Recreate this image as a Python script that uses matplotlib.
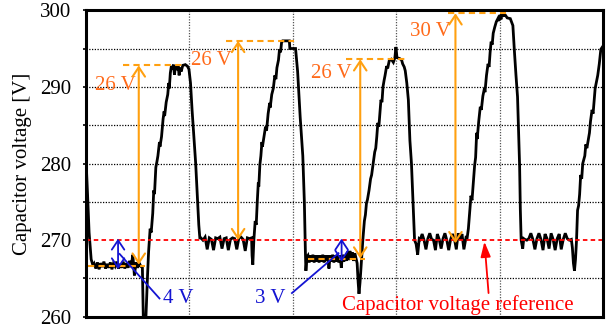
import numpy as np
import matplotlib
matplotlib.use("Agg")
import matplotlib.pyplot as plt
from matplotlib.ticker import MultipleLocator

plt.rcParams['font.family'] = ['Liberation Serif', 'DejaVu Serif']
plt.rcParams['font.size'] = 15

# ---- capacitor voltage trace (time in arbitrary units, 10 per grid division) ----
start_drop = [(0.0, 280.6), (0.15, 276.0), (0.3, 271.0), (0.5, 267.5), (0.7, 266.6)]

flat_1 = [266.9, 266.3, 267.1, 266.2, 267.0, 266.5, 267.2, 266.3, 266.9, 266.4,
          267.1, 266.2, 267.0, 266.6, 267.2, 266.3, 266.9, 266.4, 267.2, 266.3,
          267.0, 266.4, 267.3, 266.5, 268.1, 265.4, 267.1, 266.4, 267.0, 266.6]
flat_1_span = (0.8, 5.3)

pulse_1 = [(5.45, 266.4), (5.55, 259.0), (5.75, 258.5), (5.95, 265.5), (6.05, 268.5),
           (6.2, 271.5), (6.3, 271.0), (6.45, 273.5), (6.55, 276.5), (6.62, 276.0),
           (6.75, 279.5), (6.85, 280.2), (6.95, 281.0), (7.1, 282.8), (7.15, 282.2),
           (7.3, 283.5), (7.45, 285.8), (7.55, 286.8), (7.6, 286.2), (7.75, 288.0),
           (7.9, 289.0), (8.0, 290.5), (8.05, 289.8), (8.15, 291.8), (8.25, 292.7),
           (8.35, 292.3), (8.45, 292.9), (8.55, 291.6), (8.65, 292.8), (8.75, 292.2),
           (8.9, 292.8), (9.0, 291.5), (9.1, 292.5), (9.2, 292.0), (9.35, 292.8),
           (9.6, 292.9), (9.8, 292.7), (9.95, 292.3), (10.1, 290.5), (10.25, 287.0),
           (10.45, 283.0), (10.6, 280.0), (10.75, 276.0), (10.9, 272.0), (11.0, 270.3)]

flat_2 = [270.3, 270.0, 270.4, 268.8, 270.3, 270.1, 268.7, 270.3, 270.2, 270.4,
          268.9, 270.2, 270.3, 268.7, 270.1, 270.3, 270.2, 268.8, 270.3, 270.4,
          270.1, 268.6, 270.3, 270.2, 270.3]
flat_2_span = (11.1, 16.0)

pulse_2 = [(16.05, 268.0), (16.12, 266.8), (16.22, 270.0), (16.35, 272.5), (16.45, 272.0),
           (16.55, 275.0), (16.65, 277.5), (16.7, 277.0), (16.8, 279.8), (16.9, 281.0),
           (17.0, 282.8), (17.05, 282.2), (17.2, 283.5), (17.35, 284.8), (17.45, 284.3),
           (17.6, 286.5), (17.75, 287.9), (17.8, 287.3), (17.95, 289.0), (18.1, 289.8),
           (18.25, 291.5), (18.35, 291.0), (18.45, 292.5), (18.6, 293.5), (18.7, 294.9),
           (18.8, 294.5), (18.9, 295.8), (19.0, 296.0), (19.5, 296.0), (19.65, 296.0),
           (19.7, 295.0), (20.25, 295.0), (20.45, 292.0), (20.7, 286.0), (20.95, 281.0),
           (21.1, 275.0), (21.2, 268.5), (21.25, 266.0), (21.35, 267.8)]

flat_3 = [268.0, 267.1, 268.0, 267.2, 268.1, 267.1, 268.0, 267.2, 268.0, 267.1,
          268.0, 267.2, 268.1, 267.1, 268.0, 267.3, 268.0, 266.3, 268.0, 267.2,
          268.1, 267.1, 268.0, 267.2, 268.0, 267.1, 268.0, 266.4, 268.1, 267.2,
          268.0, 267.3, 268.5, 267.4, 268.6, 267.5, 268.4, 267.3, 268.3, 267.6]
flat_3_span = (21.45, 26.1)

pulse_3 = [(26.2, 267.0), (26.3, 264.5), (26.38, 263.0), (26.48, 264.5), (26.6, 267.0),
           (26.75, 270.0), (26.9, 272.5), (27.0, 273.3), (27.1, 274.8), (27.2, 275.3),
           (27.35, 276.5), (27.5, 278.0), (27.6, 278.5), (27.75, 280.0), (27.9, 281.5),
           (28.0, 282.0), (28.1, 283.5), (28.2, 285.3), (28.3, 284.8), (28.4, 286.5),
           (28.5, 288.3), (28.6, 288.0), (28.7, 290.0), (28.8, 290.8), (28.9, 291.5),
           (29.05, 292.7), (29.15, 292.4), (29.3, 293.4), (29.5, 293.6), (29.7, 293.2),
           (29.85, 293.8), (29.95, 295.2), (30.05, 293.8), (30.3, 293.7), (30.5, 293.5),
           (30.6, 293.0), (30.75, 292.6), (30.85, 292.1), (31.0, 290.5), (31.15, 288.3),
           (31.3, 283.0), (31.45, 280.0), (31.6, 275.0), (31.75, 270.0), (31.9, 269.5),
           (32.05, 268.1), (32.2, 270.2)]

flat_4 = [270.1, 270.8, 270.0, 268.8, 270.2, 270.9, 270.1, 270.0, 268.7, 270.8,
          270.1, 268.9, 270.2, 270.9, 270.0, 268.7, 270.1, 270.8, 270.2, 268.8,
          270.9, 270.1, 270.8, 268.8, 270.2]
flat_4_span = (32.3, 36.7)

pulse_4 = [(36.8, 270.0), (36.95, 271.5), (37.1, 274.0), (37.2, 275.8), (37.3, 275.2),
           (37.45, 278.0), (37.55, 279.7), (37.65, 280.8), (37.75, 284.0), (37.8, 283.2),
           (37.95, 285.5), (38.1, 287.4), (38.2, 287.0), (38.35, 288.8), (38.5, 289.8),
           (38.55, 289.3), (38.7, 291.5), (38.85, 293.0), (38.95, 292.6), (39.05, 294.5),
           (39.15, 295.9), (39.25, 295.5), (39.35, 297.0), (39.5, 297.8), (39.65, 298.5),
           (39.8, 298.9), (39.9, 298.6), (40.0, 299.4), (40.1, 298.8), (40.2, 299.5),
           (40.35, 299.3), (40.5, 299.4), (40.7, 299.0), (41.0, 298.9), (41.25, 298.0),
           (41.4, 294.6), (41.55, 291.5), (41.7, 288.7), (41.8, 284.0), (41.9, 279.7),
           (41.97, 274.0), (42.05, 270.0), (42.2, 268.9), (42.3, 270.2)]

flat_5 = [270.1, 270.0, 270.2, 270.9, 270.1, 268.8, 270.2, 270.9, 270.1, 268.7,
          270.8, 270.2, 268.9, 270.9, 270.1, 268.7, 270.2, 270.8, 268.8, 270.1,
          270.9, 270.2, 270.0, 270.1]
flat_5_span = (42.4, 46.9)

pulse_5 = [(47.0, 269.0), (47.1, 267.0), (47.2, 266.0), (47.3, 267.5), (47.4, 270.0),
           (47.5, 273.9), (47.6, 274.5), (47.7, 276.0), (47.8, 278.5), (47.9, 278.0),
           (48.0, 280.0), (48.2, 281.0), (48.3, 282.5), (48.4, 282.0), (48.65, 284.0),
           (48.75, 285.5), (48.9, 287.0), (49.0, 286.5), (49.2, 289.8), (49.3, 290.5),
           (49.45, 291.5), (49.6, 293.0), (49.75, 294.9), (49.9, 295.2)]

v_ref = 270.0

# ---- annotation values ----
# orange swing arrows: x position, lower level, swing (V), dashed top extent, label position
swing_x = [5.1, 14.7, 26.5, 35.7]
swing_base = [266.8, 270.0, 267.6, 269.6]
swing_volts = [26, 26, 26, 30]
swing_top_dash = [(3.55, 9.3), (13.5, 20.1), (25.1, 31.0), (35.0, 40.6)]
swing_label_pos = [(2.8, 290.2), (12.1, 293.4), (23.7, 291.8), (33.3, 297.2)]
low_dash = [(0.2, 5.7, 266.6), (21.5, 27.0, 267.5)]

# blue ripple arrows
ripple_x = [3.1, 24.7]
ripple_top = [270.2, 270.2]
ripple_volts = [4, 3]
ripple_leader = [((3.25, 268.2), (7.1, 262.4)), ((24.4, 268.3), (19.9, 263.1))]
ripple_label_pos = [(7.4, 262.4, 'left'), (19.3, 262.4, 'right')]


def assemble():
    pts = list(start_drop)
    flats = [(flat_1, flat_1_span), (flat_2, flat_2_span), (flat_3, flat_3_span),
             (flat_4, flat_4_span), (flat_5, flat_5_span)]
    pulses = [pulse_1, pulse_2, pulse_3, pulse_4, pulse_5]
    for (vals, (a, b)), pulse in zip(flats, pulses):
        ts = np.linspace(a, b, len(vals))
        pts += list(zip(ts, vals))
        pts += pulse
    arr = np.array(pts)
    return arr[:, 0], arr[:, 1]


t, v = assemble()

fig = plt.figure(figsize=(6.12, 3.29), dpi=100)
ax = fig.add_axes([0.1405, 0.037, 0.8455, 0.932])

ax.set_xlim(0, 50)
ax.set_ylim(260, 300)

# grid
for y in np.arange(265, 300, 5):
    if y != v_ref:
        ax.axhline(y, color='black', lw=0.9, ls=(0, (1, 1.2)), zorder=1)
for x in np.arange(10, 50, 10):
    ax.axvline(x, color='#555555', lw=0.9, ls=(0, (1, 1.2)), zorder=1)

ax.plot(t, v, color='black', lw=2.0, zorder=3, solid_joinstyle='miter')

# reference line
ax.axhline(v_ref, color='red', lw=1.3, ls=(0, (2.5, 1.8)), zorder=4)

orange = '#FFA010'
orange_txt = '#FF6A1A'
for xa, base, dv, (d0, d1), (lx, ly) in zip(swing_x, swing_base, swing_volts,
                                            swing_top_dash, swing_label_pos):
    top = base + dv
    ax.plot([d0, d1], [top, top], color=orange, lw=1.5, ls=(0, (3, 2)), zorder=5)
    ax.annotate('', xy=(xa, top), xytext=(xa, base),
                arrowprops=dict(arrowstyle='<->,head_length=0.45,head_width=0.3',
                                color=orange, lw=1.5, shrinkA=0, shrinkB=0), zorder=5)
    ax.text(lx, ly, f'{dv} V', color=orange_txt, ha='center', va='center', fontsize=15)

for a, b, y in low_dash:
    ax.plot([a, b], [y, y], color=orange, lw=1.5, ls=(0, (3, 2)), zorder=5)

blue = '#1414D2'
for xa, top, dv, (p0, p1), (lx, ly, ha) in zip(ripple_x, ripple_top, ripple_volts,
                                               ripple_leader, ripple_label_pos):
    ax.annotate('', xy=(xa, top), xytext=(xa, top - dv),
                arrowprops=dict(arrowstyle='<->,head_length=0.45,head_width=0.3',
                                color=blue, lw=1.3, shrinkA=0, shrinkB=0), zorder=6)
    ax.plot([p0[0], p1[0]], [p0[1], p1[1]], color=blue, lw=1.3, zorder=6)
    ax.text(lx, ly, f'{dv} V', color=blue, ha=ha, va='center', fontsize=15)

# reference label
ax.text(35.9, 261.5, 'Capacitor voltage reference', color='red', ha='center',
        va='center', fontsize=15)
ax.annotate('', xy=(38.5, 269.8), xytext=(38.9, 263.1),
            arrowprops=dict(arrowstyle='-|>,head_length=0.6,head_width=0.2',
                            color='red', lw=1.3, shrinkA=0, shrinkB=0), zorder=6)

# axes styling
ax.set_xticks([])
ax.yaxis.set_major_locator(MultipleLocator(10))
ax.yaxis.set_minor_locator(MultipleLocator(5))
ax.tick_params(axis='y', which='both', direction='out', length=2.5, width=1.2, pad=8,
               labelsize=15)
for s in ax.spines.values():
    s.set_linewidth(2.2)
    s.set_zorder(7)
ax.set_ylabel('Capacitor voltage [V]', fontsize=15, labelpad=6)

fig.savefig('out.png', dpi=100)
